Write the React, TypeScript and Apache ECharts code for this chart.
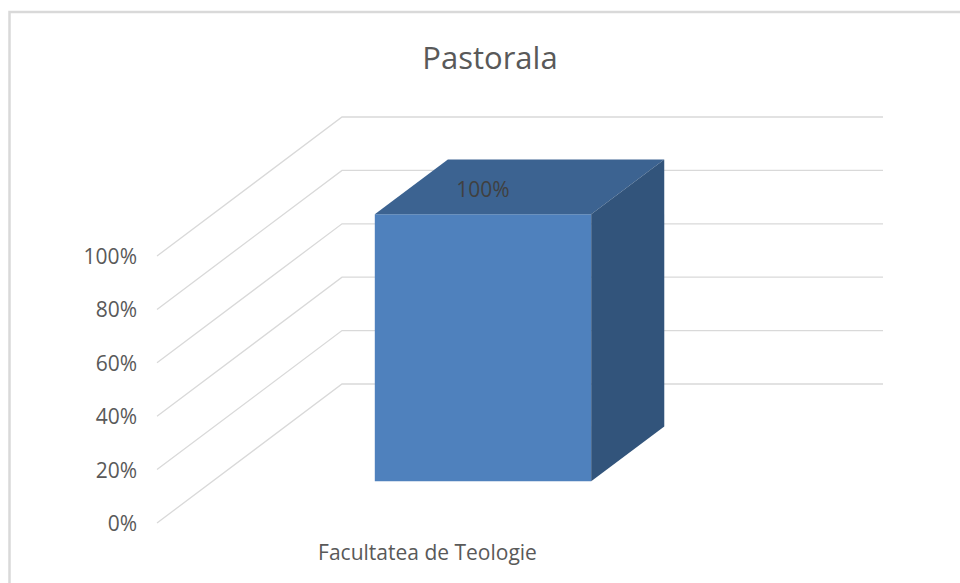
import React, { useEffect, useRef } from "react";
import * as echarts from "echarts";

const titleText = "Pastorala";
const categories = ["Facultatea de Teologie"];
const values = [100];
const yTicks = [0, 20, 40, 60, 80, 100];

const DEPTH = [185, -139];
const FRONT_T = 0.3;
const BACK_T = 0.695;
const BAR_RATIO = 0.4;
const FONT = "'Open Sans', 'Noto Sans', sans-serif";

export default function App() {
  const ref = useRef<HTMLDivElement>(null);
  useEffect(() => {
    if (!ref.current) return;
    const chart = echarts.init(ref.current, undefined, { renderer: "svg" });
    chart.setOption({
      animation: false,
      backgroundColor: "#ffffff",
      textStyle: { fontFamily: FONT },
      graphic: [
        {
          type: "rect",
          shape: { x: 9.5, y: 12, width: 1000, height: 1000 },
          style: { fill: "none", stroke: "#D9D9D9", lineWidth: 2.5 },
          z: 0,
        },
        {
          type: "text",
          x: 490,
          y: 57,
          style: {
            text: titleText,
            fill: "#595959",
            font: `31px ${FONT}`,
            align: "center",
            verticalAlign: "middle",
          },
        },
      ],
      grid: { left: 157, right: 262, top: 256, bottom: 60 },
      xAxis: {
        type: "category",
        data: categories,
        axisLine: { show: false },
        axisTick: { show: false },
        splitLine: { show: false },
        axisLabel: { color: "#595959", fontSize: 21, margin: 18, fontFamily: FONT },
      },
      yAxis: {
        type: "value",
        min: 0,
        max: 100,
        interval: 20,
        axisLine: { show: false },
        axisTick: { show: false },
        splitLine: { show: false },
        axisLabel: {
          color: "#595959",
          fontSize: 21,
          margin: 20,
          fontFamily: FONT,
          formatter: "{value}%",
        },
      },
      series: [
        {
          type: "custom",
          z: 1,
          silent: true,
          data: yTicks.map((v) => [0, v]),
          encode: { x: 0, y: 1 },
          renderItem: (params: any, api: any) => {
            const cs = params.coordSys;
            const y = api.coord([0, api.value(1)])[1];
            return {
              type: "polyline",
              shape: {
                points: [
                  [cs.x, y],
                  [cs.x + DEPTH[0], y + DEPTH[1]],
                  [cs.x + cs.width + DEPTH[0], y + DEPTH[1]],
                ],
              },
              style: { stroke: "#D9D9D9", lineWidth: 1.3, fill: "none" },
            };
          },
        },
        {
          type: "custom",
          z: 2,
          data: values.map((v, i) => [i, v]),
          encode: { x: 0, y: 1 },
          renderItem: (params: any, api: any) => {
            const ci = api.value(0);
            const v = api.value(1);
            const b = api.coord([ci, 0]);
            const t = api.coord([ci, v]);
            const w = api.size([1, 0])[0] * BAR_RATIO;
            const fx = DEPTH[0] * FRONT_T;
            const fy = DEPTH[1] * FRONT_T;
            const dx = DEPTH[0] * (BACK_T - FRONT_T);
            const dy = DEPTH[1] * (BACK_T - FRONT_T);
            const xl = b[0] - w / 2 + fx;
            const xr = b[0] + w / 2 + fx;
            const yb = b[1] + fy;
            const yt = t[1] + fy;
            return {
              type: "group",
              children: [
                {
                  type: "polygon",
                  shape: { points: [[xl, yt], [xr, yt], [xr, yb], [xl, yb]] },
                  style: { fill: "#4F81BD" },
                },
                {
                  type: "polygon",
                  shape: { points: [[xl, yt], [xl + dx, yt + dy], [xr + dx, yt + dy], [xr, yt]] },
                  style: { fill: "#3C6391" },
                },
                {
                  type: "polygon",
                  shape: { points: [[xr, yt], [xr + dx, yt + dy], [xr + dx, yb + dy], [xr, yb]] },
                  style: { fill: "#32547B" },
                },
                {
                  type: "text",
                  style: {
                    text: v + "%",
                    x: (xl + xr) / 2,
                    y: yt - 25,
                    align: "center",
                    verticalAlign: "middle",
                    fill: "#404040",
                    font: `21px ${FONT}`,
                  },
                },
              ],
            };
          },
        },
      ],
    });
    return () => chart.dispose();
  }, []);
  return (
    <div
      ref={ref}
      style={{ position: "absolute", left: 0, top: 0, width: 960, height: 583 }}
    />
  );
}
